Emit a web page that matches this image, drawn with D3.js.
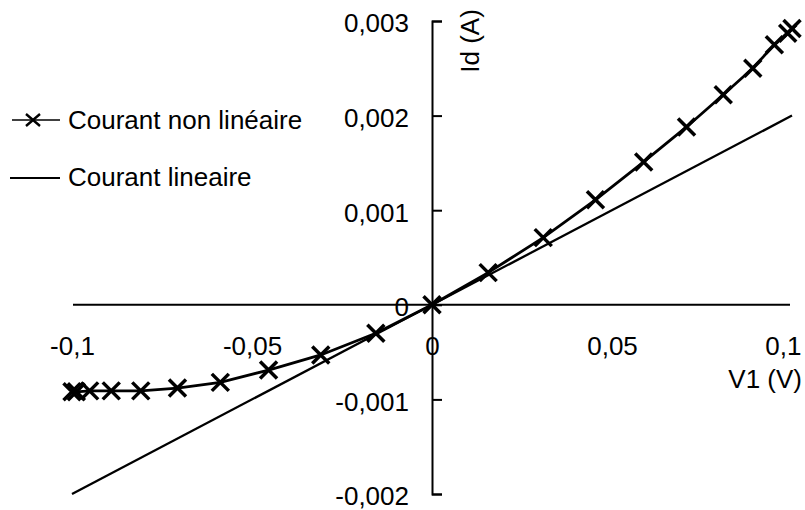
<!DOCTYPE html>
<html>
<head>
<meta charset="utf-8">
<script src="https://cdn.jsdelivr.net/npm/d3@7"></script>
<style>
  html, body { margin: 0; padding: 0; background: #fff; }
  svg { display: block; }
  text { font-family: "Liberation Sans", Arial, sans-serif; fill: #000; }
</style>
</head>
<body>
<svg id="chart" width="805" height="510"></svg>
<script>
// ---- data ----
const voltageNonLin = [-0.1, -0.0988, -0.0951, -0.0891, -0.0809, -0.0707, -0.0588, -0.0454, -0.0309, -0.0156, 0,
                       0.0156, 0.0309, 0.0454, 0.0588, 0.0707, 0.0809, 0.0891, 0.0951, 0.0988, 0.1];
const currentNonLin = [-0.00092, -0.00092, -0.00091, -0.00091, -0.00091, -0.00088, -0.00082, -0.00069, -0.00053, -0.00030, 0,
                       0.00034, 0.00071, 0.00111, 0.00151, 0.00188, 0.00222, 0.00250, 0.00275, 0.00287, 0.00292];
const voltageLin = [-0.1, 0.1];
const currentLin = [-0.002, 0.002];

const xTickValues = [-0.1, -0.05, 0, 0.05, 0.1];
const xTickLabels = ["-0,1", "-0,05", "0", "0,05", "0,1"];
const yTickValues = [-0.002, -0.001, 0, 0.001, 0.002, 0.003];
const yTickLabels = ["-0,002", "-0,001", "0", "0,001", "0,002", "0,003"];

const seriesNames = ["Courant non linéaire", "Courant lineaire"];
const xTitle = "V1 (V)";
const yTitle = "Id (A)";

// ---- drawing ----
const svg = d3.select("#chart");
const FS = 26;
const FONT = '"Liberation Sans", Arial, sans-serif';

const x = d3.scaleLinear().domain([-0.1, 0.1]).range([72, 792]);
const y = d3.scaleLinear().domain([-0.002, 0.003]).range([494, 21]);

// x axis through y=0
const xAxis = d3.axisBottom(x)
  .tickValues(xTickValues)
  .tickSize(0)
  .tickSizeOuter(0)
  .tickFormat((d, i) => xTickLabels[i]);
const gx = svg.append("g")
  .attr("transform", `translate(0,${y(0)})`)
  .call(xAxis);
gx.select(".domain").attr("stroke", "#000").attr("stroke-width", 2)
  .attr("d", `M${x(-0.1) + 1},0H${x(0.1) - 2}`);
gx.selectAll("text")
  .attr("y", 32).attr("dy", "0.71em")
  .style("font-size", FS + "px")
  .style("font-family", FONT);
// keep the last label inside the picture, as in the reference
gx.selectAll(".tick").filter(d => d === 0.1).select("text")
  .attr("text-anchor", "end").attr("x", 9);

// y axis through x=0, ticks pointing right, labels to the left
const yAxis = d3.axisRight(y)
  .tickValues(yTickValues)
  .tickSize(10)
  .tickSizeOuter(10)
  .tickFormat((d, i) => yTickLabels[i]);
const gy = svg.append("g")
  .attr("transform", `translate(${x(0)},0)`)
  .call(yAxis);
gy.select(".domain").attr("stroke", "#000").attr("stroke-width", 2);
gy.selectAll(".tick line").attr("stroke", "#000").attr("stroke-width", 2);
gy.selectAll("text")
  .attr("x", -23).attr("dy", "0.42em")
  .attr("text-anchor", "end")
  .style("font-size", FS + "px")
  .style("font-family", FONT);

// axis titles
svg.append("text")
  .attr("x", 802).attr("y", 388)
  .attr("text-anchor", "end")
  .style("font-size", FS + "px")
  .text(xTitle);
svg.append("text")
  .attr("transform", `translate(479,41) rotate(-90)`)
  .attr("text-anchor", "middle")
  .style("font-size", FS + "px")
  .text(yTitle);

// linear current line
const linData = voltageLin.map((v, i) => [v, currentLin[i]]);
const line = d3.line().x(d => x(d[0])).y(d => y(d[1]));
svg.append("path")
  .datum(linData)
  .attr("fill", "none")
  .attr("stroke", "#000")
  .attr("stroke-width", 2.3)
  .attr("d", line);

// non-linear current line with X markers
const nlData = voltageNonLin.map((v, i) => [v, currentNonLin[i]]);
svg.append("path")
  .datum(nlData)
  .attr("fill", "none")
  .attr("stroke", "#000")
  .attr("stroke-width", 2.8)
  .attr("d", line);

const ms = 8.5;
svg.append("g").selectAll("path")
  .data(nlData)
  .join("path")
  .attr("transform", d => `translate(${x(d[0])},${y(d[1])})`)
  .attr("d", `M${-ms},${-ms}L${ms},${ms}M${-ms},${ms}L${ms},${-ms}`)
  .attr("stroke", "#000")
  .attr("stroke-width", 3.5)
  .attr("fill", "none");

// legend
const legend = svg.append("g");
const rows = [120, 177];
legend.append("line").attr("x1", 12).attr("x2", 60).attr("y1", rows[0]).attr("y2", rows[0])
  .attr("stroke", "#000").attr("stroke-width", 1.6);
legend.append("path")
  .attr("transform", `translate(33,${rows[0]})`)
  .attr("d", "M-7,-6L7,6M-7,6L7,-6")
  .attr("stroke", "#000").attr("stroke-width", 2.4).attr("fill", "none");
legend.append("line").attr("x1", 10).attr("x2", 60).attr("y1", rows[1] + 1).attr("y2", rows[1] + 1)
  .attr("stroke", "#000").attr("stroke-width", 2);
seriesNames.forEach((name, i) => {
  legend.append("text")
    .attr("x", 68).attr("y", rows[i]).attr("dy", "0.35em")
    .style("font-size", FS + "px")
    .text(name);
});
</script>
</body>
</html>
